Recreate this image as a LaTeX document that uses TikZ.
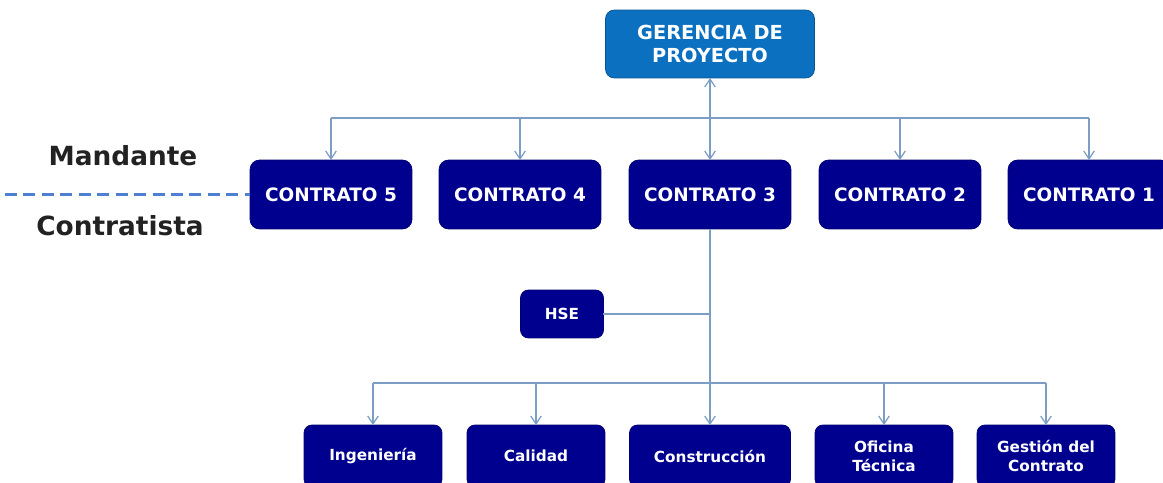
\documentclass[tikz,border=0pt]{standalone}
\usepackage{fontspec}
\setmainfont{DejaVu Sans}
\usetikzlibrary{arrows.meta,positioning}
\definecolor{gerblue}{HTML}{0B70C0}
\definecolor{navybox}{HTML}{00008F}
\definecolor{linkline}{HTML}{7C9DC4}
\definecolor{dashline}{HTML}{4F7FD0}
\definecolor{labelgray}{HTML}{222222}
\tikzstyle{link} = [draw=linkline, line width=0.7pt, >={Straight Barb[length=4.5pt,width=6pt]}]

\begin{document}
\begin{tikzpicture}[
        x=0.02cm, y=-0.02cm,
        every node/.style={align=center, inner sep=1pt, outer sep=0pt},
        gerbox/.style={fill=gerblue, draw=gerblue!75!black, rounded corners=5pt, text=white,
            minimum width=4.18cm, minimum height=1.36cm, font=\fontsize{11}{13.5}\selectfont\bfseries},
        contbox/.style={fill=navybox, draw=navybox!80!black, rounded corners=5.5pt, text=white,
            minimum width=3.24cm, minimum height=1.38cm, font=\fontsize{10.5}{12}\selectfont\bfseries},
        areabox/.style={fill=navybox, draw=navybox!80!black, rounded corners=4.5pt, text=white,
            minimum width=2.76cm, minimum height=1.24cm, font=\fontsize{8.7}{11}\selectfont\bfseries},
        sidelabel/.style={text=labelgray, font=\fontsize{15}{18}\selectfont\bfseries}
        ]
        \useasboundingbox (0,0) rectangle (1163,483);

        % direccion
        \node[gerbox] (ger) at (710,44) {GERENCIA DE\\PROYECTO};

        % contratos
        \node[contbox] (c5) at (331,194.5) {CONTRATO 5};
        \node[contbox] (c4) at (520,194.5) {CONTRATO 4};
        \node[contbox] (c3) at (710,194.5) {CONTRATO 3};
        \node[contbox] (c2) at (900,194.5) {CONTRATO 2};
        \node[contbox] (c1) at (1089,194.5) {CONTRATO 1};

        % mandante / contratista
        \node[sidelabel] (mand) at (123,156) {Mandante};
        \node[sidelabel] (contr) at (120,226) {Contratista};
        \coordinate (dashstart) at (5,194.5);
        \draw[dashline, line width=1.3pt, dash pattern=on 6.8pt off 3.7pt] (dashstart) -- (c5.west);

        % areas del contrato 3
        \node[areabox, minimum width=1.66cm, minimum height=0.96cm] (hse) at (562,314) {HSE};
        \node[areabox] (ing) at (373,456) {Ingeniería};
        \node[areabox] (cal) at (536,456) {Calidad};
        \node[areabox, minimum width=3.22cm] (cons) at (710,456) {Construcción};
        \node[areabox] (ofi) at (884,456) {Oficina\\Técnica};
        \node[areabox] (gest) at (1046,456) {Gestión del\\Contrato};

        % conectores
        \coordinate (topbus) at (0,118);
        \coordinate (lowbus) at (0,383);
        \draw[link] (c5.north |- topbus) -- (c1.north |- topbus);
        \draw[link,<->] (ger.south) -- (c3.north);
        \foreach \c in {c5,c4,c2,c1}
            \draw[link,->] (\c.north |- topbus) -- (\c.north);
        \draw[link,->] (c3.south) -- (cons.north);
        \draw[link] (hse.east) -- (hse.east -| c3.south);
        \draw[link] (ing.north |- lowbus) -- (gest.north |- lowbus);
        \foreach \a in {ing,cal,ofi,gest}
            \draw[link,->] (\a.north |- lowbus) -- (\a.north);
\end{tikzpicture}
\end{document}
